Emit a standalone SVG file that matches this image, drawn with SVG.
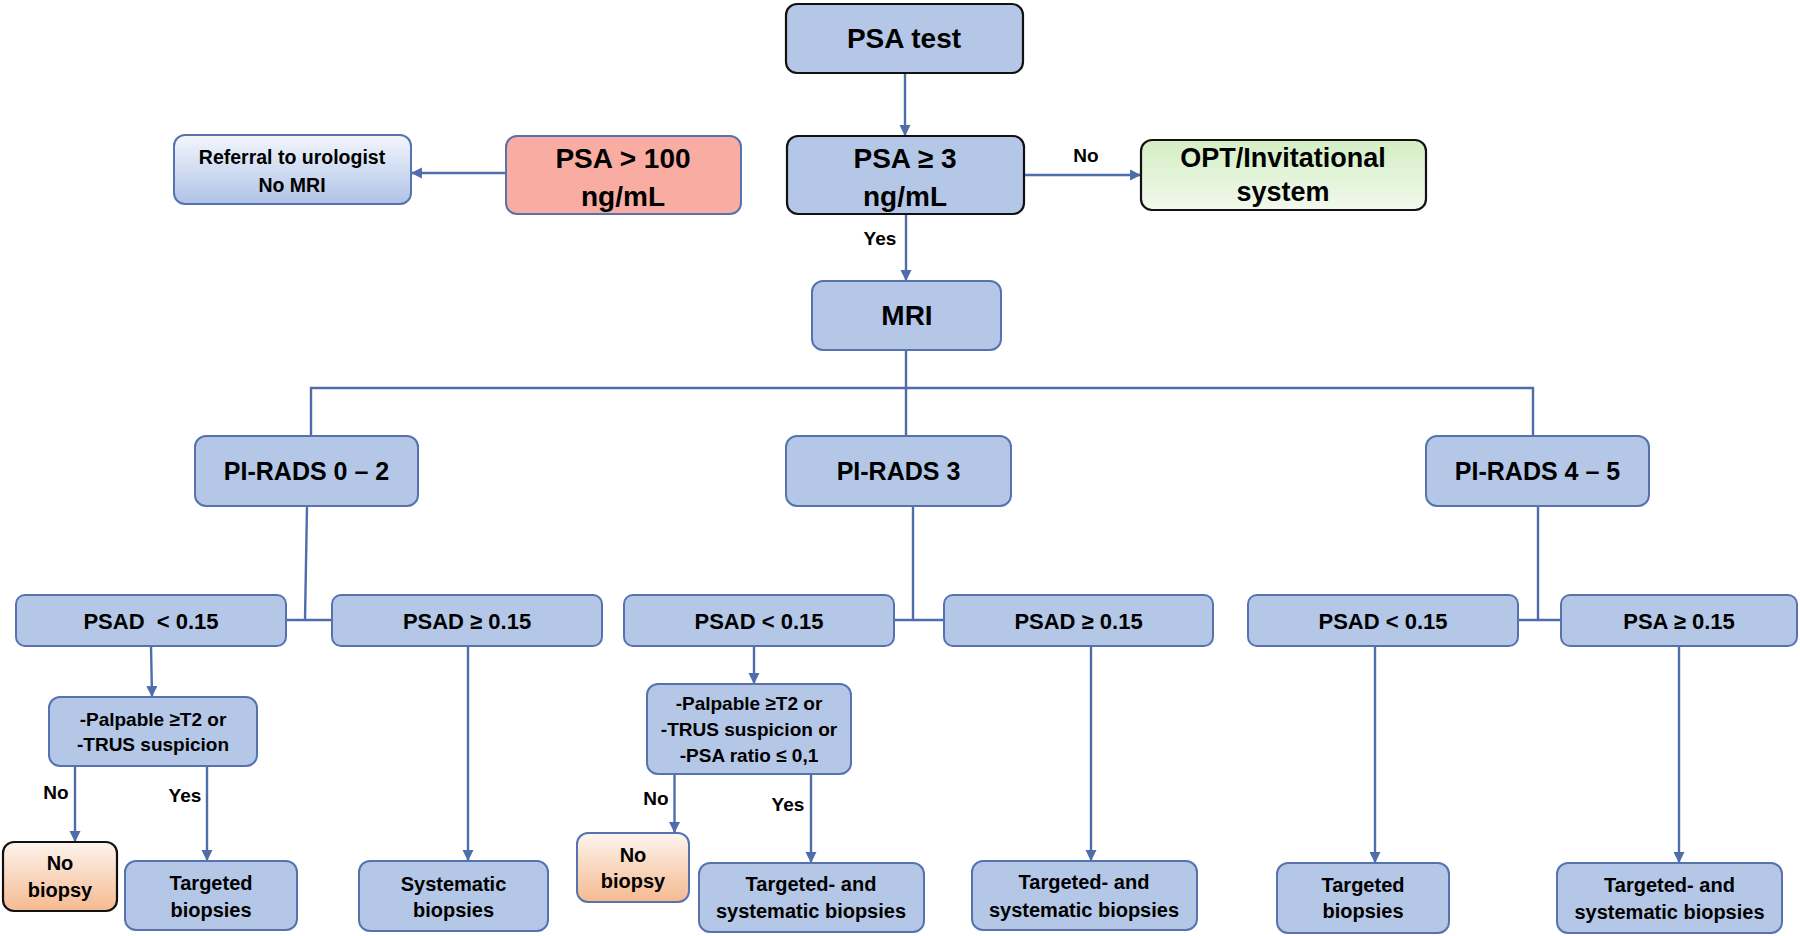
<svg xmlns="http://www.w3.org/2000/svg" width="1800" height="936" viewBox="0 0 1800 936">
<defs>
<style>
.box{fill:#B4C7E7;stroke:#5673B0;stroke-width:2}
.dark{stroke:#111;stroke-width:2.2}
.t{font-family:'Liberation Sans',Arial,sans-serif;font-weight:bold;fill:#000;text-anchor:middle}
.xl{font-size:28px}
.opt{font-size:27px}
.lg{font-size:25px}
.md{font-size:22px}
.sm{font-size:20px}
.xs{font-size:19px}
.ref{font-size:19.5px}
.lbl{font-size:19px}
.ln{fill:none;stroke:#4E6DAA;stroke-width:2.4}
.ar{fill:none;stroke:#4E6DAA;stroke-width:2.4;marker-end:url(#ah)}
</style>
<marker id="ah" viewBox="0 0 10 10" refX="9" refY="5" markerWidth="4.6" markerHeight="4.6" markerUnits="strokeWidth" orient="auto">
<path d="M0,0 L10,5 L0,10 z" fill="#4E6DAA"/>
</marker>
<linearGradient id="gRef" x1="0" y1="0" x2="0" y2="1">
<stop offset="0" stop-color="#F3F6FC"/>
<stop offset="1" stop-color="#AFC3E6"/>
</linearGradient>
<linearGradient id="gOpt" x1="0" y1="0" x2="0" y2="1">
<stop offset="0" stop-color="#D3EEC4"/>
<stop offset="1" stop-color="#F1F9EC"/>
</linearGradient>
<linearGradient id="gNo" x1="0" y1="0" x2="0" y2="1">
<stop offset="0" stop-color="#FDF4EE"/>
<stop offset="1" stop-color="#F5BA90"/>
</linearGradient>
</defs>
<rect width="1800" height="936" fill="#fff"/>

<g id="connectors">
<path class="ar" d="M905,73 V135"/>
<path class="ar" d="M906,214 V280"/>
<path class="ar" d="M1024,175 H1140"/>
<path class="ar" d="M506,173 H412"/>
<path class="ln" d="M906,350 V436 M311,436 V388 H1533 V436"/>
<path class="ln" d="M307,506 L305,620 M286,620 H332"/>
<path class="ln" d="M913,506 V620 M894,620 H944"/>
<path class="ln" d="M1538,506 V620 M1518,620 H1561"/>
<path class="ar" d="M151,646 L152,696"/>
<path class="ar" d="M468,646 V860"/>
<path class="ar" d="M754,646 V683"/>
<path class="ar" d="M1091,646 V860"/>
<path class="ar" d="M1375,646 V862"/>
<path class="ar" d="M1679,646 V862"/>
<path class="ar" d="M75,766 V841"/>
<path class="ar" d="M207,766 V860"/>
<path class="ar" d="M674.5,774 V832"/>
<path class="ar" d="M811,774 V862"/>
<text class="t lbl" x="880" y="245">Yes</text>
<text class="t lbl" x="1086" y="162">No</text>
<text class="t lbl" x="56" y="799">No</text>
<text class="t lbl" x="185" y="802">Yes</text>
<text class="t lbl" x="656" y="805">No</text>
<text class="t lbl" x="788" y="811">Yes</text>
</g>

<g id="psa-test">
<rect class="box dark" x="786" y="4" width="237" height="69" rx="11"/>
<text class="t xl" x="904" y="48">PSA test</text>
</g>
<g id="psa-3">
<rect class="box dark" x="787" y="136" width="237" height="78" rx="11"/>
<text class="t xl" x="905" y="168">PSA ≥ 3</text>
<text class="t xl" x="905" y="206">ng/mL</text>
</g>
<g id="psa-100">
<rect class="box" x="506" y="136" width="235" height="78" rx="11" style="fill:#F8ACA2"/>
<text class="t xl" x="623" y="168">PSA &gt; 100</text>
<text class="t xl" x="623" y="206">ng/mL</text>
</g>
<g id="referral">
<rect class="box" x="174" y="135" width="237" height="69" rx="11" style="fill:url(#gRef)"/>
<text class="t ref" x="292" y="164">Referral to urologist</text>
<text class="t ref" x="292" y="192">No MRI</text>
</g>
<g id="opt">
<rect class="box dark" x="1141" y="140" width="285" height="70" rx="11" style="fill:url(#gOpt)"/>
<text class="t opt" x="1283" y="167">OPT/Invitational</text>
<text class="t opt" x="1283" y="201">system</text>
</g>
<g id="mri">
<rect class="box" x="812" y="281" width="189" height="69" rx="11"/>
<text class="t xl" x="907" y="325">MRI</text>
</g>
<g id="pirads-0-2">
<rect class="box" x="195" y="436" width="223" height="70" rx="11"/>
<text class="t lg" x="306.5" y="480">PI-RADS 0 – 2</text>
</g>
<g id="pirads-3">
<rect class="box" x="786" y="436" width="225" height="70" rx="11"/>
<text class="t lg" x="898.5" y="480">PI-RADS 3</text>
</g>
<g id="pirads-4-5">
<rect class="box" x="1426" y="436" width="223" height="70" rx="11"/>
<text class="t lg" x="1537.5" y="480">PI-RADS 4 – 5</text>
</g>
<g id="psad-lt-1">
<rect class="box" x="16" y="595" width="270" height="51" rx="9"/>
<text class="t md" x="151" y="629" xml:space="preserve">PSAD  &lt; 0.15</text>
</g>
<g id="psad-ge-1">
<rect class="box" x="332" y="595" width="270" height="51" rx="9"/>
<text class="t md" x="467" y="629">PSAD ≥ 0.15</text>
</g>
<g id="psad-lt-2">
<rect class="box" x="624" y="595" width="270" height="51" rx="9"/>
<text class="t md" x="759" y="629">PSAD &lt; 0.15</text>
</g>
<g id="psad-ge-2">
<rect class="box" x="944" y="595" width="269" height="51" rx="9"/>
<text class="t md" x="1078.5" y="629">PSAD ≥ 0.15</text>
</g>
<g id="psad-lt-3">
<rect class="box" x="1248" y="595" width="270" height="51" rx="9"/>
<text class="t md" x="1383" y="629">PSAD &lt; 0.15</text>
</g>
<g id="psa-ge-3">
<rect class="box" x="1561" y="595" width="236" height="51" rx="9"/>
<text class="t md" x="1679" y="629">PSA ≥ 0.15</text>
</g>
<g id="palpable-1">
<rect class="box" x="49" y="697" width="208" height="69" rx="11"/>
<text class="t xs" x="153" y="726">-Palpable ≥T2 or</text>
<text class="t xs" x="153" y="751">-TRUS suspicion</text>
</g>
<g id="palpable-2">
<rect class="box" x="647" y="684" width="204" height="90" rx="11"/>
<text class="t xs" x="749" y="710">-Palpable ≥T2 or</text>
<text class="t xs" x="749" y="736">-TRUS suspicion or</text>
<text class="t xs" x="749" y="762">-PSA ratio ≤ 0,1</text>
</g>
<g id="no-biopsy-1">
<rect class="box dark" x="3" y="842" width="114" height="69" rx="11" style="fill:url(#gNo)"/>
<text class="t sm" x="60" y="870">No</text>
<text class="t sm" x="60" y="897">biopsy</text>
</g>
<g id="targeted-1">
<rect class="box" x="125" y="861" width="172" height="69" rx="11"/>
<text class="t sm" x="211" y="890">Targeted</text>
<text class="t sm" x="211" y="917">biopsies</text>
</g>
<g id="systematic-1">
<rect class="box" x="359" y="861" width="189" height="70" rx="11"/>
<text class="t sm" x="453.5" y="891">Systematic</text>
<text class="t sm" x="453.5" y="917">biopsies</text>
</g>
<g id="no-biopsy-2">
<rect class="box" x="577" y="833" width="112" height="69" rx="11" style="fill:url(#gNo)"/>
<text class="t sm" x="633" y="862">No</text>
<text class="t sm" x="633" y="888">biopsy</text>
</g>
<g id="ts-2">
<rect class="box" x="699" y="863" width="225" height="69" rx="11"/>
<text class="t sm" x="811" y="891">Targeted- and</text>
<text class="t sm" x="811" y="918">systematic biopsies</text>
</g>
<g id="ts-3">
<rect class="box" x="972" y="861" width="225" height="69" rx="11"/>
<text class="t sm" x="1084" y="889">Targeted- and</text>
<text class="t sm" x="1084" y="917">systematic biopsies</text>
</g>
<g id="targeted-3">
<rect class="box" x="1277" y="863" width="172" height="70" rx="11"/>
<text class="t sm" x="1363" y="892">Targeted</text>
<text class="t sm" x="1363" y="918">biopsies</text>
</g>
<g id="ts-4">
<rect class="box" x="1557" y="863" width="225" height="70" rx="11"/>
<text class="t sm" x="1669.5" y="892">Targeted- and</text>
<text class="t sm" x="1669.5" y="919">systematic biopsies</text>
</g>
</svg>
